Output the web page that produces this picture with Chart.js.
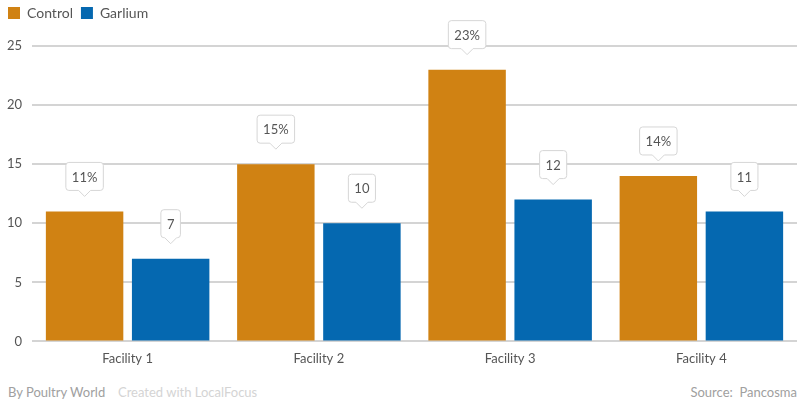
<!DOCTYPE html>
<html>
<head>
<meta charset="utf-8">
<script src="https://cdn.jsdelivr.net/npm/chart.js@4.4.0/dist/chart.umd.min.js"></script>
<style>
  html, body { margin: 0; padding: 0; background: #fff; }
  #wrap { position: relative; width: 803px; height: 405px; }
  #c { position: absolute; left: 0; top: 0; }
  .foot { position: absolute; top: 384px; font: 13px Lato, sans-serif; }
</style>
</head>
<body>
<div id="wrap">
  <canvas id="c" width="803" height="369"></canvas>
  <div class="foot" style="left:8px;color:#a0a0a0;">By Poultry World</div>
  <div class="foot" style="left:118px;color:#d4d4d4;">Created with LocalFocus</div>
  <div class="foot" style="right:6px;color:#a0a0a0;">Source:&nbsp; Pancosma</div>
</div>
<script>
const categories = ["Facility 1", "Facility 2", "Facility 3", "Facility 4"];
const controlValues = [11, 15, 23, 14];
const garliumValues = [7, 10, 12, 11];
const yTicks = [0, 5, 10, 15, 20, 25];

const FONT = "Lato, sans-serif";

const legendSpace = {
  id: 'legendSpace',
  beforeInit(chart) {
    const orig = chart.legend.fit;
    chart.legend.fit = function () {
      orig.call(this);
      this.height += 16;
    };
  }
};

const calloutPlugin = {
  id: 'callouts',
  afterDatasetsDraw(chart) {
    const ctx = chart.ctx;
    ctx.save();
    ctx.font = "13px " + FONT;
    chart.data.datasets.forEach((ds, di) => {
      const meta = chart.getDatasetMeta(di);
      meta.data.forEach((bar, i) => {
        const txt = ds.data[i] + (ds.suffix || "");
        const tw = ctx.measureText(txt).width;
        const w = tw + 12, h = 28, r = 3, ph = 6, pw = 6;
        const cx = bar.x;
        const tip = bar.y - 15;
        const bottom = tip - ph;
        const top = bottom - h;
        const left = cx - w / 2, right = cx + w / 2;
        ctx.beginPath();
        ctx.moveTo(left + r, top);
        ctx.lineTo(right - r, top);
        ctx.quadraticCurveTo(right, top, right, top + r);
        ctx.lineTo(right, bottom - r);
        ctx.quadraticCurveTo(right, bottom, right - r, bottom);
        ctx.lineTo(cx + pw, bottom);
        ctx.lineTo(cx, tip);
        ctx.lineTo(cx - pw, bottom);
        ctx.lineTo(left + r, bottom);
        ctx.quadraticCurveTo(left, bottom, left, bottom - r);
        ctx.lineTo(left, top + r);
        ctx.quadraticCurveTo(left, top, left + r, top);
        ctx.closePath();
        ctx.fillStyle = "#ffffff";
        ctx.fill();
        ctx.strokeStyle = "#d6d6d6";
        ctx.lineWidth = 1;
        ctx.stroke();
        ctx.fillStyle = "#555555";
        ctx.textAlign = "center";
        ctx.textBaseline = "middle";
        ctx.fillText(txt, cx, top + h / 2 + 1);
      });
    });
    ctx.restore();
  }
};

new Chart(document.getElementById('c'), {
  type: 'bar',
  data: {
    labels: categories,
    datasets: [
      { label: "Control", data: controlValues, suffix: "%", backgroundColor: "#D08213" },
      { label: "Garlium", data: garliumValues, suffix: "", backgroundColor: "#0568B0" }
    ]
  },
  options: {
    responsive: false,
    animation: false,
    devicePixelRatio: 1,
    layout: { padding: { left: 0, right: 6, top: -2, bottom: 0 } },
    datasets: { bar: { categoryPercentage: 0.9, barPercentage: 0.9 } },
    plugins: {
      legend: {
        display: true,
        position: 'top',
        align: 'start',
        labels: {
          boxWidth: 12, boxHeight: 12, padding: 8,
          color: "#555555",
          font: { family: FONT, size: 14 }
        }
      },
      tooltip: { enabled: false }
    },
    scales: {
      x: {
        grid: { display: false },
        border: { display: false },
        ticks: { color: "#555555", font: { family: FONT, size: 13 }, padding: 2 }
      },
      y: {
        min: 0, max: 25,
        afterBuildTicks(axis) { axis.ticks = yTicks.map(v => ({ value: v })); },
        afterFit(axis) { axis.width = 32; },
        grid: { color: "#d4d4d4", lineWidth: 2, drawTicks: false },
        border: { display: false },
        ticks: { color: "#555555", font: { family: FONT, size: 13 }, padding: 10 }
      }
    }
  },
  plugins: [legendSpace, calloutPlugin]
});
</script>
</body>
</html>
